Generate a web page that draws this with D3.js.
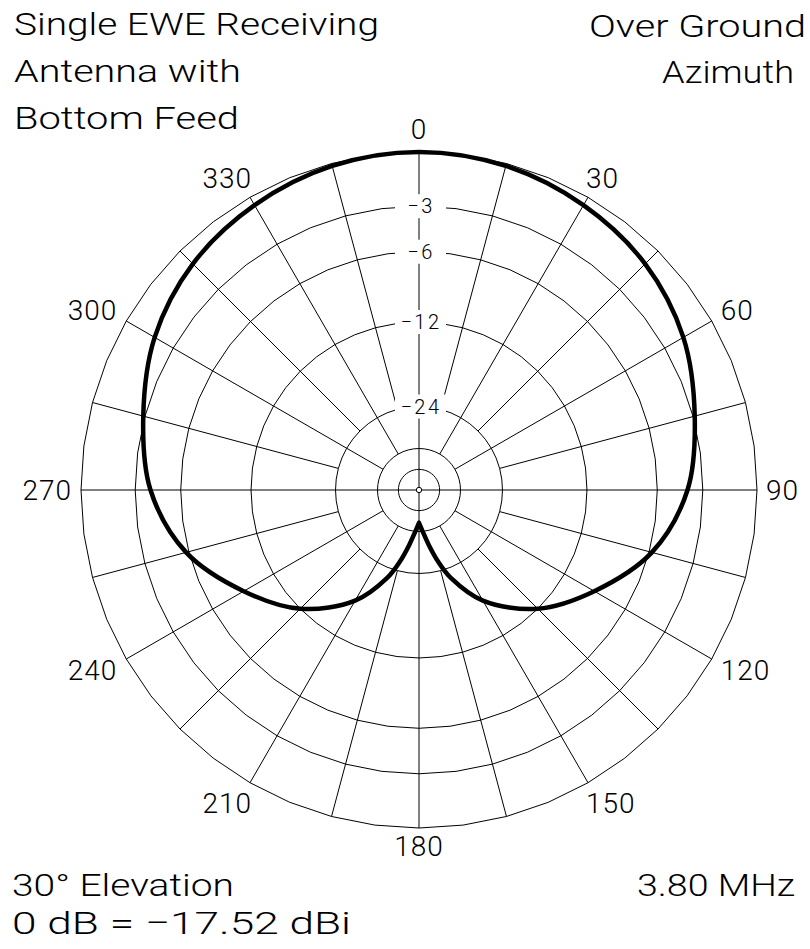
<!DOCTYPE html>
<html lang="en">
<head>
<meta charset="UTF-8">
<title>Single EWE Receiving Antenna - Azimuth</title>
<script src="https://d3js.org/d3.v7.min.js"></script>
<style>
  body { margin:0; background:#fff; }
  text { font-family: Roboto, "DejaVu Sans", sans-serif; font-weight:300; fill:#000; }
  .grid { fill:none; stroke:#000; stroke-width:1px; }
  .pattern { fill:none; stroke:#000; stroke-width:4.5px; stroke-linejoin:round; stroke-linecap:round; }
</style>
</head>
<body>
<script>
// pattern, clockwise from 180 round to 180 (dB rel. 0 dB = -17.52 dBi)
var patternAz = [180, 185, 190, 195, 200, 210, 225, 240, 255, 270, 285, 300, 315, 330, 345,
                 0, 15, 30, 45, 60, 75, 90, 105, 120, 135, 150, 160, 165, 170, 175, 180];
var patternDb = [-40, -36, -31, -26, -22, -16.7, -12, -8.8, -5.8, -3.95, -2.9, -1.75, -0.95, -0.47, -0.13,
                 0, -0.13, -0.47, -0.95, -1.75, -2.9, -3.95, -5.8, -8.8, -12, -16.7, -22, -26, -31, -36, -40];

var ringDb = [0, -3, -6, -12, -24, -36, -48];
var ringLabelDb = [-3, -6, -12, -24];
var ringLabels = ["\u22123", "\u22126", "\u221212", "\u221224"];
var spokeAz = d3.range(0, 360, 15);
var angleLabels = [0, 30, 60, 90, 120, 150, 180, 210, 240, 270, 300, 330];

var width = 810, height = 949, cx = 419, cy = 490, R = 338;

// ARRL log scale: every 2 dB down the radius shrinks to 0.89
var lnR = d3.scaleLinear().domain([-2, 0]).range([Math.log(0.89), 0]);
function rad(db) { return R * Math.exp(lnR(db)); }
function toRad(a) { return a * Math.PI / 180; }

var svg = d3.select("body").append("svg")
    .attr("width", width).attr("height", height);

var g = svg.append("g").attr("transform", "translate(" + cx + "," + cy + ")");

// rings (drawn as polygons like the original plotter output)
var ringPts = d3.range(0, 360, 7.5);
g.selectAll("path.ring").data(ringDb).join("path")
    .attr("class", "grid ring")
    .attr("d", function(db) {
        return d3.lineRadial()
            .angle(function(a) { return toRad(a); })
            .radius(rad(db))
            .curve(d3.curveLinearClosed)(ringPts);
    });

// spokes every 15 degrees
function spokeStart(a) {
    if (a % 90 === 0) return 0;
    if (a % 30 === 0) return rad(-36);
    return rad(-24);
}
g.selectAll("line.spoke").data(spokeAz).join("line")
    .attr("class", "grid spoke")
    .attr("x1", function(a) { return spokeStart(a) * Math.sin(toRad(a)); })
    .attr("y1", function(a) { return -spokeStart(a) * Math.cos(toRad(a)); })
    .attr("x2", function(a) { return R * Math.sin(toRad(a)); })
    .attr("y2", function(a) { return -R * Math.cos(toRad(a)); });

// ring labels on the 0 degree spoke
var rl = g.selectAll("g.rlab").data(ringLabelDb).join("g")
    .attr("class", "rlab")
    .attr("transform", function(db) { return "translate(0," + (-rad(db)) + ")"; });
rl.append("rect")
    .attr("x", -24).attr("y", -12).attr("width", 51).attr("height", 24)
    .attr("fill", "#fff");
rl.append("text")
    .attr("x", 2).attr("dy", "0.36em")
    .attr("text-anchor", "middle")
    .attr("font-size", 20)
    .attr("letter-spacing", 2.5)
    .text(function(d, i) { return ringLabels[i]; });

g.append("circle").attr("r", 2.7)
    .attr("fill", "#fff").attr("stroke", "#000").attr("stroke-width", 1);

// pattern: open curve from 180 all the way round to 180, which keeps the cusp sharp
var prev = -Infinity;
var pts = patternAz.map(function(a, i) {
    var t = a;
    while (t < prev) t += 360;
    prev = t;
    return { t: t, db: patternDb[i] };
});
var patternLine = d3.lineRadial()
    .angle(function(p) { return toRad(p.t); })
    .radius(function(p) { return rad(p.db); })
    .curve(d3.curveCatmullRom.alpha(0.5));
g.append("path").attr("class", "pattern").attr("d", patternLine(pts));

// azimuth labels
function labelPos(a) {
    var s = Math.sin(toRad(a)), c = Math.cos(toRad(a));
    var ex = R * s, ey = -R * c;
    if (a === 0) return { x: 0, y: ey - 13, anchor: "middle" };
    if (a === 180) return { x: 0, y: ey + 28, anchor: "middle" };
    if (a === 90) return { x: ex + 9, y: 10, anchor: "start" };
    if (a === 270) return { x: ex - 9, y: 10, anchor: "end" };
    if (Math.abs(s) < 0.6) {
        return { x: ex + (s > 0 ? -2 : 2), y: c > 0 ? ey - 9 : ey + 30, anchor: s > 0 ? "start" : "end" };
    }
    return { x: ex + (s > 0 ? 9 : -9), y: c > 0 ? ey - 1 : ey + 21, anchor: s > 0 ? "start" : "end" };
}
g.selectAll("text.az").data(angleLabels).join("text")
    .attr("class", "az")
    .attr("font-size", 28)
    .attr("x", function(a) { return labelPos(a).x; })
    .attr("y", function(a) { return labelPos(a).y; })
    .attr("text-anchor", function(a) { return labelPos(a).anchor; })
    .attr("letter-spacing", 1)
    .text(function(a) { return a; });

// titles and notes
var notes = [
    { t: "Single EWE Receiving", x: 14, y: 35, len: 365 },
    { t: "Antenna with", x: 14, y: 82, len: 227 },
    { t: "Bottom Feed", x: 14, y: 129, len: 225 },
    { t: "Over Ground", x: 589, y: 37, len: 217 },
    { t: "Azimuth", x: 662, y: 83, len: 132 },
    { t: "30\u00b0 Elevation", x: 12, y: 896, len: 222 },
    { t: "0 dB = \u221217.52 dBi", x: 12, y: 934, len: 339 },
    { t: "3.80 MHz", x: 637, y: 896, len: 158 }
];
svg.selectAll("text.note").data(notes).join("text")
    .attr("class", "note")
    .attr("font-size", 32)
    .attr("x", function(d) { return d.x; })
    .attr("y", function(d) { return d.y; })
    .attr("textLength", function(d) { return d.len; })
    .attr("lengthAdjust", "spacingAndGlyphs")
    .text(function(d) { return d.t; });
</script>
</body>
</html>
